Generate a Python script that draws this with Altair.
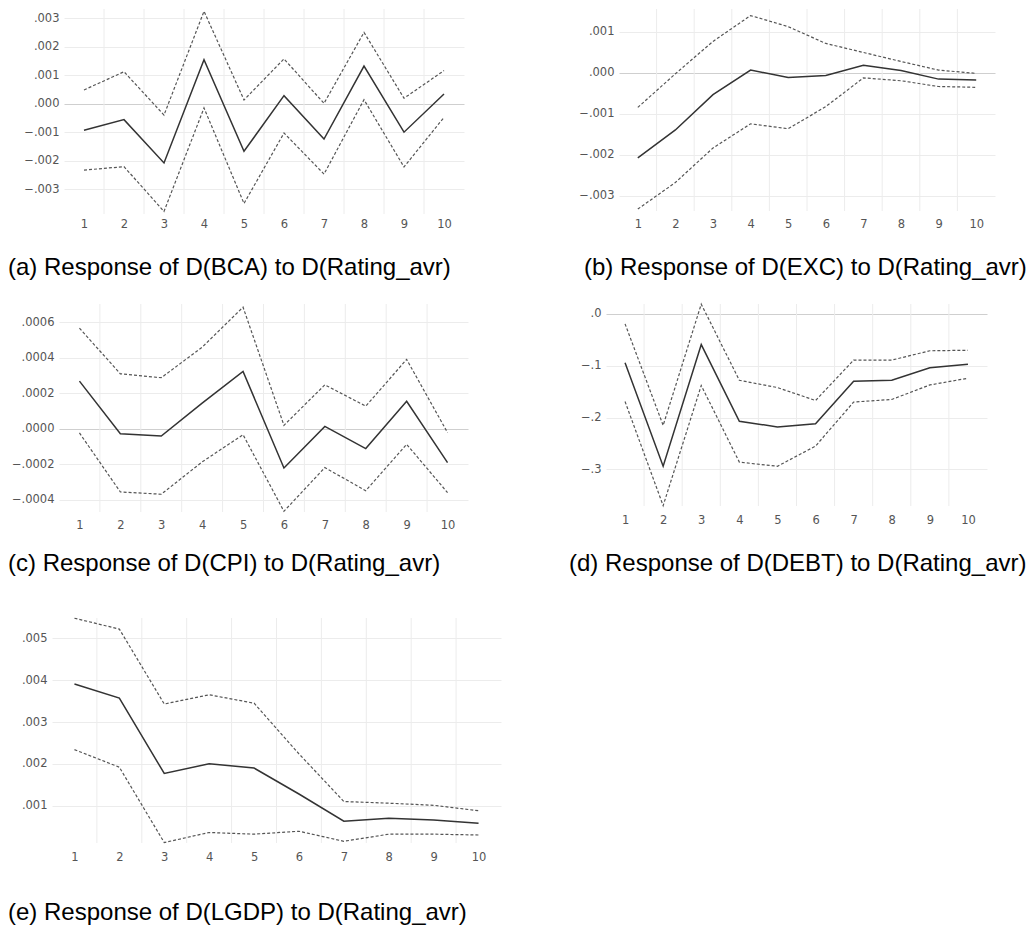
import altair as alt
import pandas as pd

periods = [1, 2, 3, 4, 5, 6, 7, 8, 9, 10]
boundaries = [1.5, 2.5, 3.5, 4.5, 5.5, 6.5, 7.5, 8.5, 9.5]

# (a) Response of D(BCA)
a_center = [-0.00092, -0.00055, -0.00207, 0.00155, -0.00166, 0.00029, -0.00123, 0.00133, -0.00099, 0.00035]
a_upper = [0.00049, 0.00113, -0.00039, 0.00325, 0.00014, 0.00158, 0.00002, 0.00251, 0.00020, 0.00117]
a_lower = [-0.00232, -0.00220, -0.00377, -0.00014, -0.00349, -0.00102, -0.00246, 0.00015, -0.00221, -0.00047]
a_ticks = [-0.003, -0.002, -0.001, 0.0, 0.001, 0.002, 0.003]

# (b) Response of D(EXC)
b_center = [-0.00207, -0.00139, -0.00053, 0.00007, -0.00011, -0.00006, 0.00019, 0.00006, -0.00015, -0.00017]
b_upper = [-0.00084, -0.00002, 0.00077, 0.00140, 0.00113, 0.00072, 0.00050, 0.00028, 0.00007, -0.00001]
b_lower = [-0.00332, -0.00267, -0.00183, -0.00124, -0.00136, -0.00082, -0.00012, -0.00019, -0.00033, -0.00035]
b_ticks = [-0.003, -0.002, -0.001, 0.0, 0.001]

# (c) Response of D(CPI)
c_center = [0.000268, -0.000028, -0.000041, 0.000144, 0.000322, -0.000221, 0.000013, -0.000112, 0.000154, -0.000191]
c_upper = [0.000566, 0.000309, 0.000287, 0.000459, 0.000684, 0.000019, 0.000247, 0.000127, 0.000390, -0.000022]
c_lower = [-0.000024, -0.000356, -0.000369, -0.000187, -0.000034, -0.000465, -0.000219, -0.000349, -0.000088, -0.000360]
c_ticks = [-0.0004, -0.0002, 0.0, 0.0002, 0.0004, 0.0006]

# (d) Response of D(DEBT)
d_center = [-0.094, -0.294, -0.059, -0.207, -0.218, -0.212, -0.130, -0.128, -0.104, -0.097]
d_upper = [-0.019, -0.215, 0.019, -0.128, -0.142, -0.167, -0.089, -0.089, -0.071, -0.070]
d_lower = [-0.169, -0.370, -0.138, -0.286, -0.294, -0.255, -0.170, -0.165, -0.137, -0.124]
d_ticks = [-0.3, -0.2, -0.1, 0.0]

# (e) Response of D(LGDP)
e_center = [0.00391, 0.00357, 0.00177, 0.00200, 0.00190, 0.00128, 0.00063, 0.00070, 0.00066, 0.00058]
e_upper = [0.00548, 0.00522, 0.00343, 0.00365, 0.00345, 0.00224, 0.00110, 0.00106, 0.00101, 0.00088]
e_lower = [0.00234, 0.00192, 0.00012, 0.00036, 0.00032, 0.00039, 0.00015, 0.00032, 0.00032, 0.00030]
e_ticks = [0.001, 0.002, 0.003, 0.004, 0.005]

captions = [
    "(a) Response of D(BCA) to D(Rating_avr)",
    "(b) Response of D(EXC) to D(Rating_avr)",
    "(c) Response of D(CPI) to D(Rating_avr)",
    "(d) Response of D(DEBT) to D(Rating_avr)",
    "(e) Response of D(LGDP) to D(Rating_avr)",
]

TICK_FONT = "DejaVu Sans"
TICK_COLOR = "#555555"


def panel(center, upper, lower, ydomain, yticks, decimals, plot_w, height,
          caption, cap_dx, cap_offset, xpad, inset=0):
    df = pd.DataFrame({
        "period": periods * 3,
        "value": center + upper + lower,
        "series": ["Response"] * 10 + ["Upper"] * 10 + ["Lower"] * 10,
    })
    bdf = pd.DataFrame({"b": boundaries})
    width = plot_w + inset
    if inset:
        xscale = alt.Scale(domain=[0.5, 10.5], nice=False, zero=False, range=[inset, width])
    else:
        xscale = alt.Scale(domain=[0.5, 10.5], nice=False, zero=False)
    xaxis = alt.Axis(values=periods, grid=False, ticks=False, domain=False,
                     labelPadding=xpad, format="d", title=None,
                     labelFont=TICK_FONT, labelFontSize=11.5, labelColor=TICK_COLOR)
    yscale = alt.Scale(domain=ydomain, nice=False, zero=False)
    yaxis = alt.Axis(values=yticks,
                     labelExpr="replace(format(datum.value, '.%df'), '0.', '.')" % decimals,
                     grid=True,
                     gridColor={"condition": {"test": "datum.value === 0", "value": "#cfcfcf"},
                                "value": "#ececec"},
                     gridWidth=1, ticks=False, domain=False, title=None,
                     labelPadding=5, labelFont=TICK_FONT, labelFontSize=11.5,
                     labelColor=TICK_COLOR, offset=-inset)
    rules = alt.Chart(bdf).mark_rule(color="#ececec", strokeWidth=1).encode(
        x=alt.X("b:Q", scale=xscale, axis=xaxis)
    )
    solid = alt.Chart(df).transform_filter("datum.series == 'Response'").mark_line(
        color="#333333", strokeWidth=1.5
    ).encode(
        x=alt.X("period:Q", scale=xscale, axis=xaxis),
        y=alt.Y("value:Q", scale=yscale, axis=yaxis),
    )
    dashed = alt.Chart(df).transform_filter("datum.series != 'Response'").mark_line(
        color="#555555", strokeWidth=1.2, strokeDash=[3, 2]
    ).encode(
        x=alt.X("period:Q", scale=xscale, axis=xaxis),
        y=alt.Y("value:Q", scale=yscale, axis=yaxis),
        detail="series:N",
    )
    return alt.layer(rules, solid, dashed).properties(
        width=width, height=height,
        title=alt.TitleParams(caption, orient="bottom", anchor="start", frame="group",
                              dx=cap_dx, offset=cap_offset, font="Liberation Sans",
                              fontSize=24, fontWeight="normal", color="#000000"),
    )


pa = panel(a_center, a_upper, a_lower, [-0.00386, 0.00333], a_ticks, 3, 400, 205,
           captions[0], -44, 26, 4.5, inset=12)
pb = panel(b_center, b_upper, b_lower, [-0.003366, 0.00156], b_ticks, 3, 376, 202,
           captions[1], -35, 26, 7.5)
pc = panel(c_center, c_upper, c_lower, [-0.000469, 0.000702], c_ticks, 4, 409, 208,
           captions[2], -44, 21, 7.8, inset=7)
pd_ = panel(d_center, d_upper, d_lower, [-0.3707, 0.0193], d_ticks, 1, 381, 202,
            captions[3], -37, 26, 8.5)
pe = panel(e_center, e_upper, e_lower, [0.000109, 0.005485], e_ticks, 3, 449, 225,
           captions[4], -44, 38, 8.5)

row1 = alt.hconcat(pa, pb, spacing=155, bounds="flush")
row2 = alt.hconcat(pc, pd_, spacing=138, bounds="flush")
top = alt.vconcat(row1, row2, spacing=21, bounds="full")
chart = alt.vconcat(top, pe, spacing=38, bounds="full").properties(
    padding=0
).configure_view(stroke=None)

chart.save("out.html", embed_options={"renderer": "svg", "actions": False})
